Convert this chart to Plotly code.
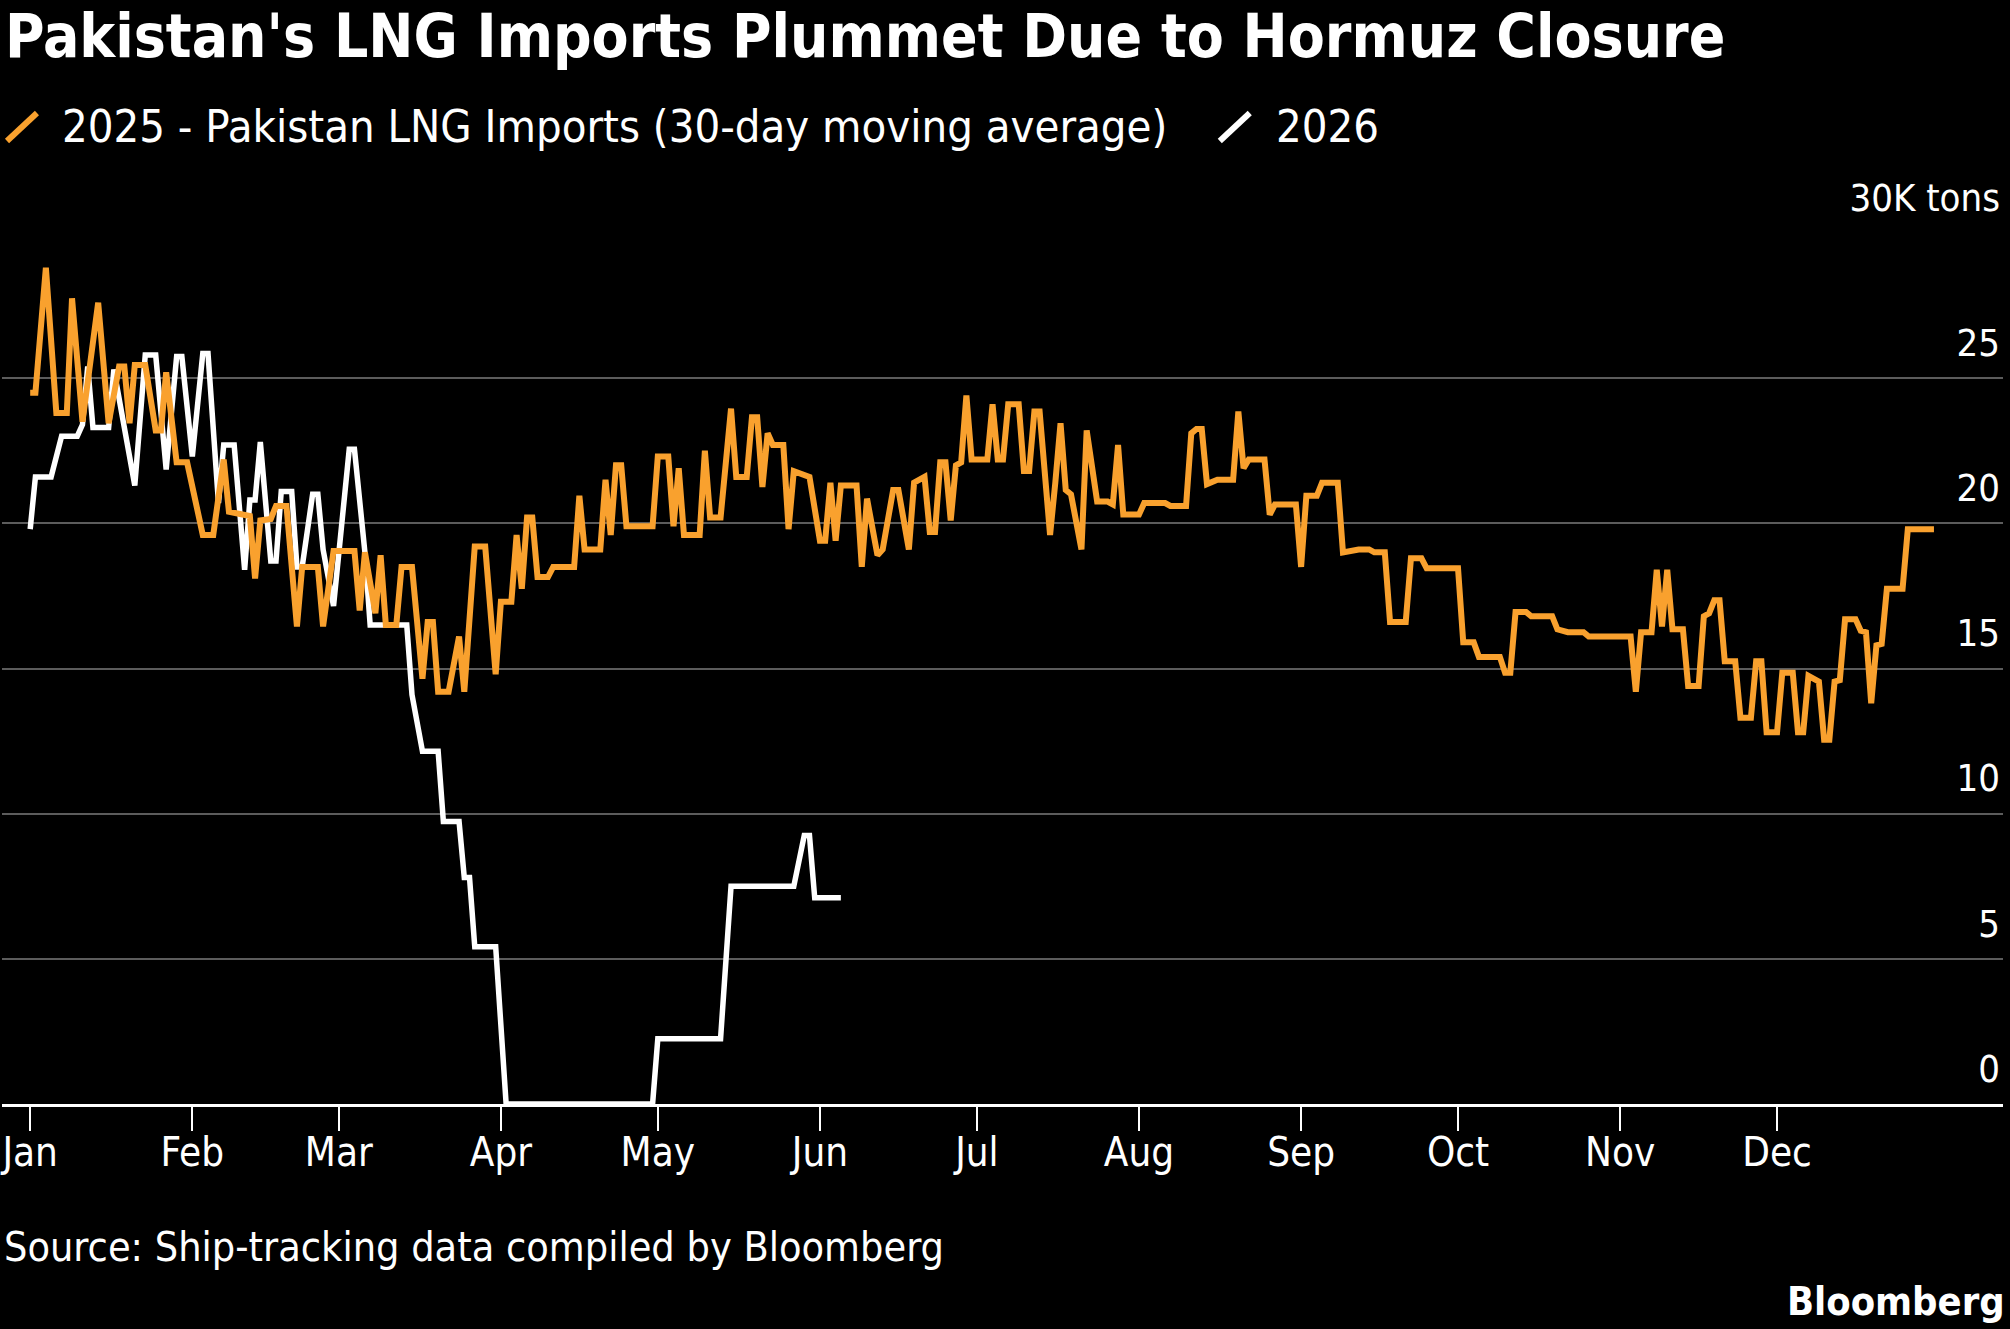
import pandas as pd
import plotly.graph_objects as go

# ---------------- data ----------------
TITLE = "Pakistan's LNG Imports Plummet Due to Hormuz Closure"
NAME_2025 = "2025 - Pakistan LNG Imports (30-day moving average)"
NAME_2026 = "2026"
SOURCE = "Source: Ship-tracking data compiled by Bloomberg"
BRAND = "Bloomberg"
MONTHS = ["Jan", "Feb", "Mar", "Apr", "May", "Jun", "Jul", "Aug", "Sep", "Oct", "Nov", "Dec"]
Y_TICKS = [0, 5, 10, 15, 20, 25, 30]
Y_TICK_LABELS = ["0", "5", "10", "15", "20", "25", "30K tons"]

# day of year (0 = Jan 1) and value, thousand tons
days_2025 = [0, 1, 3, 5, 7, 8, 10, 13, 15, 17, 18, 19, 20, 22, 24, 25, 26, 28, 30, 33, 35, 37, 38, 42, 43, 44,
             46, 47, 49, 51, 52, 55, 56, 58, 62, 63, 64, 66, 67, 68, 70, 71, 73, 74, 75, 76, 77, 78, 80, 82,
             83, 85, 87, 89, 90, 92, 93, 94, 95, 96, 97, 99, 100, 104, 105, 106, 109, 110, 111, 112, 113, 114,
             119, 120, 122, 123, 124, 125, 128, 129, 130, 132, 134, 135, 137, 138, 139, 140, 141, 142, 144, 145,
             146, 149, 151, 152, 153, 154, 155, 158, 159, 160, 162, 163, 165, 166, 168, 169, 171, 172, 173, 174,
             175, 176, 177, 178, 179, 180, 183, 184, 185, 186, 187, 189, 190, 191, 192, 193, 195, 196, 197, 198,
             199, 201, 202, 204, 206, 207, 208, 209, 212, 213, 217, 218, 221, 222, 223, 224, 225, 227, 230, 231,
             232, 233, 236, 237, 238, 242, 243, 244, 246, 247, 250, 251, 254, 256, 257, 259, 260, 263, 264, 266,
             267, 273, 274, 276, 277, 281, 282, 283, 284, 286, 287, 291, 292, 294, 297, 298, 306, 307, 308, 310,
             311, 312, 313, 314, 316, 317, 319, 320, 321, 322, 323, 324, 326, 327, 329, 330, 331, 332, 334, 335,
             337, 338, 339, 340, 342, 343, 344, 345, 346, 347, 349, 350, 351, 352, 353, 354, 355, 358, 359, 364]
vals_2025 = [24.5, 24.5, 28.8, 23.8, 23.8, 27.75, 23.5, 27.6, 23.45, 25.4, 25.4, 23.45, 25.45, 25.45, 23.2,
             23.2, 25.2, 22.1, 22.1, 19.6, 19.6, 22.2, 20.4, 20.25, 18.1, 20.1, 20.15, 20.6, 20.6, 16.45, 18.5,
             18.5, 16.45, 19.05, 19.05, 17.0, 19.0, 16.9, 18.9, 16.5, 16.5, 18.5, 18.5, 16.7, 14.65, 16.6, 16.6,
             14.2, 14.2, 16.1, 14.2, 19.2, 19.2, 14.8, 17.3, 17.3, 19.6, 17.75, 20.2, 20.2, 18.15, 18.15, 18.5,
             18.5, 20.95, 19.1, 19.1, 21.5, 19.6, 22.0, 22.0, 19.9, 19.9, 22.3, 22.3, 19.9, 21.9, 19.6, 19.6,
             22.5, 20.2, 20.2, 23.95, 21.6, 21.6, 23.65, 23.65, 21.25, 23.1, 22.7, 22.7, 19.8, 21.8, 21.6, 19.4,
             19.4, 21.4, 19.4, 21.3, 21.3, 18.5, 20.85, 18.9, 19.1, 21.15, 21.15, 19.1, 21.4, 21.6, 19.7, 19.7,
             22.1, 22.1, 20.1, 22.0, 22.1, 24.4, 22.2, 22.2, 24.1, 22.2, 22.2, 24.1, 24.1, 21.8, 21.8, 23.85,
             23.85, 19.6, 21.4, 23.45, 21.15, 21.0, 19.1, 23.2, 20.75, 20.75, 20.65, 22.7, 20.3, 20.3, 20.7,
             20.7, 20.6, 20.6, 23.1, 23.25, 23.25, 21.35, 21.5, 21.5, 23.85, 21.9, 22.2, 22.2, 20.3, 20.65,
             20.65, 18.5, 20.95, 20.95, 21.4, 21.4, 19.0, 19.1, 19.1, 19.0, 19.0, 16.6, 16.6, 18.8, 18.8, 18.45,
             18.45, 15.9, 15.9, 15.4, 15.4, 14.85, 14.85, 16.95, 16.95, 16.8, 16.8, 16.35, 16.25, 16.25, 16.1,
             16.1, 14.2, 16.25, 16.25, 18.4, 16.45, 18.4, 16.35, 16.35, 14.4, 14.4, 16.8, 16.9, 17.35, 17.35,
             15.25, 15.25, 13.3, 13.3, 15.25, 15.25, 12.8, 12.8, 14.85, 14.85, 12.8, 12.8, 14.75, 14.55, 12.55,
             12.55, 14.55, 14.6, 16.7, 16.7, 16.3, 16.25, 13.8, 15.8, 15.85, 17.75, 17.75, 19.8, 19.8]

days_2026 = [0, 1, 4, 6, 9, 10, 11, 12, 15, 16, 18, 20, 22, 24, 26, 28, 29, 31, 33, 34, 36, 37, 39, 41, 42, 43,
             44, 46, 47, 48, 50, 51, 52, 54, 55, 56, 58, 61, 62, 64, 65, 72, 73, 75, 78, 79, 82, 83, 84, 85, 89,
             91, 119, 120, 132, 133, 134, 146, 148, 149, 150, 155]
vals_2026 = [19.8, 21.6, 21.6, 23.0, 23.0, 23.4, 25.4, 23.3, 23.3, 25.3, 23.3, 21.3, 25.8, 25.8, 21.85, 25.75,
             25.75, 22.3, 25.85, 25.85, 20.7, 22.7, 22.7, 18.4, 20.8, 20.8, 22.8, 18.7, 18.7, 21.1, 21.1, 18.5,
             18.5, 21.0, 21.0, 19.1, 17.15, 22.55, 22.55, 19.0, 16.5, 16.5, 14.1, 12.15, 12.15, 9.73, 9.73, 7.8,
             7.8, 5.42, 5.42, 0.0, 0.0, 2.25, 2.25, 5.2, 7.5, 7.5, 9.25, 9.25, 7.1, 7.1]

BASE = pd.Timestamp("2025-01-01")
x2025 = [BASE + pd.Timedelta(days=d) for d in days_2025]
x2026 = [BASE + pd.Timedelta(days=d) for d in days_2026]
month_ticks = [pd.Timestamp(2025, m, 1) for m in range(1, 13)]

# ---------------- layout geometry ----------------
W, H = 2010, 1329
ML, MR, MT, MB = 0, 7, 233, 225
PW, PH = W - ML - MR, H - MT - MB

ORANGE = "#F9A12E"
WHITE = "#FFFFFF"
GRID = "#5c5c5c"
FONT = "DejaVu Sans Condensed, DejaVu Sans, sans-serif"


def paper(x, y):
    return (x - ML) / PW, (H - MB - y) / PH


fig = go.Figure()
fig.add_trace(go.Scatter(x=x2026, y=vals_2026, mode="lines", name=NAME_2026,
                         line=dict(color=WHITE, width=5.5), showlegend=False))
fig.add_trace(go.Scatter(x=x2025, y=vals_2025, mode="lines", name=NAME_2025,
                         line=dict(color=ORANGE, width=6), showlegend=False))

annotations = []
shapes = []

tx, ty = paper(2, 36)
annotations.append(dict(text=f"<b>{TITLE}</b>", x=tx, y=ty, xref="paper", yref="paper",
                        xanchor="left", yanchor="middle", showarrow=False, borderpad=0,
                        font=dict(family=FONT, size=60, color=WHITE)))

# legend
for (x0, x1, col, lab_x, lab) in [(5, 35, ORANGE, 58, NAME_2025), (1219, 1249, WHITE, 1273, NAME_2026)]:
    a0 = paper(x0, 141)
    a1 = paper(x1, 113)
    shapes.append(dict(type="line", xref="paper", yref="paper", x0=a0[0], y0=a0[1], x1=a1[0], y1=a1[1],
                       line=dict(color=col, width=6)))
    lx, ly = paper(lab_x, 126)
    annotations.append(dict(text=lab, x=lx, y=ly, xref="paper", yref="paper", xanchor="left",
                            yanchor="middle", showarrow=False, font=dict(family=FONT, size=45, color=WHITE)))

sx, sy = paper(0, 1247)
annotations.append(dict(text=SOURCE, x=sx, y=sy, xref="paper", yref="paper", xanchor="left",
                        yanchor="middle", showarrow=False, font=dict(family=FONT, size=41, color=WHITE)))
bx, by = paper(2007, 1301)
annotations.append(dict(text=f"<b>{BRAND}</b>", x=bx, y=by, xref="paper", yref="paper", xanchor="right",
                        yanchor="middle", showarrow=False, font=dict(family=FONT, size=39.5, color=WHITE)))

x_left = BASE + pd.Timedelta(days=-5.39)
x_right = BASE + pd.Timedelta(days=377.2)

fig.update_layout(
    width=W, height=H,
    margin=dict(l=ML, r=MR, t=MT, b=MB, pad=0),
    paper_bgcolor="black", plot_bgcolor="black",
    font=dict(family=FONT, color=WHITE, size=38),
    annotations=annotations, shapes=shapes,
    xaxis=dict(type="date", range=[x_left, x_right], tickvals=month_ticks, ticktext=MONTHS,
               showgrid=False, zeroline=False, showline=True, linecolor=WHITE, linewidth=3,
               ticks="outside", ticklen=24, tickwidth=2, tickcolor=WHITE,
               ticklabeloverflow="allow", ticklabelstandoff=-13,
               tickfont=dict(family=FONT, size=40, color=WHITE)),
    yaxis=dict(range=[0, 30], side="right", tickvals=Y_TICKS, ticktext=Y_TICK_LABELS,
               showgrid=True, gridcolor=GRID, gridwidth=2, zeroline=False, showline=False,
               ticks="", ticklabelposition="inside top", ticklabeloverflow="allow",
               ticklabelshift=-9,
               tickfont=dict(family=FONT, size=38, color=WHITE)),
)

fig.write_html("out.html")
